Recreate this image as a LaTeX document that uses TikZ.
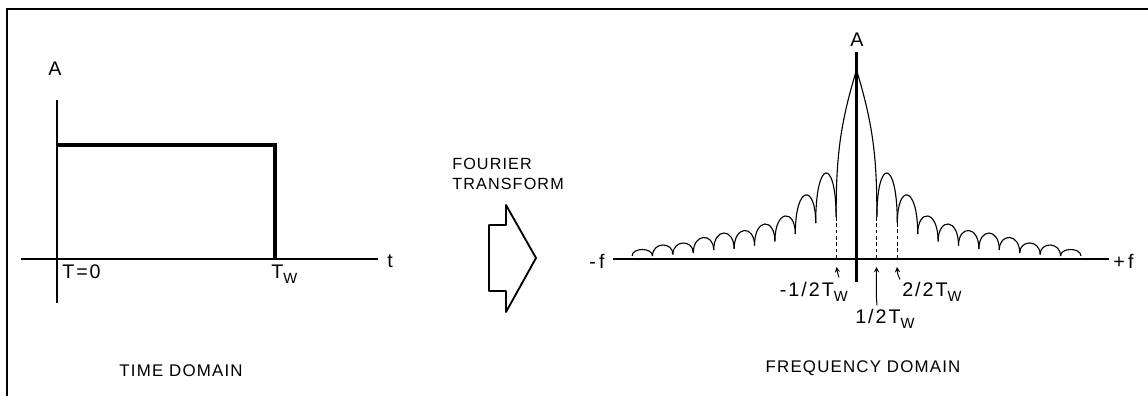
\documentclass[tikz,border=0pt]{standalone}
\usepackage{fontspec}
\setmainfont{Liberation Sans}
\newfontfamily\lettering[LetterSpace=10]{Liberation Sans}
\newfontfamily\captionfont[LetterSpace=7]{Liberation Sans}
\usepackage{tikz}
\usetikzlibrary{positioning}

\newcommand{\Tw}{T\raisebox{-0.5ex}{\fontsize{10.5}{10}\selectfont W}}

\begin{document}
\begin{tikzpicture}[
    x=0.025cm, y=0.025cm,
    frame/.style={line width=1.4pt},
    axis/.style={line width=0.9pt},
    pulse/.style={line width=2.2pt},
    lobe/.style={line width=0.8pt},
    zeroline/.style={dashed,line width=0.7pt,dash pattern=on 2.5pt off 2pt},
    pointer/.style={->,>=stealth,line width=0.7pt,shorten >=0pt},
    lbl/.style={font=\lettering\fontsize{14}{16}\selectfont,inner sep=0pt},
    caption/.style={font=\captionfont\fontsize{12}{14}\selectfont,inner sep=0pt}
  ]
    \useasboundingbox (0,0) rectangle (1148,396);
    \draw[frame] (7,0) -- (7,387) -- (1148,387);

    % time domain
    \coordinate (t0)   at (57,137);
    \coordinate (ttop) at (57,296);
    \coordinate (tbot) at (57,93);
    \coordinate (tl)   at (21,137);
    \coordinate (tr)   at (378,137);
    \coordinate (p1)   at (57,251);
    \coordinate (p2)   at (275,251);
    \coordinate (p3)   at (275,137);
    \draw[axis] (tbot) -- (ttop);
    \draw[axis] (tl) -- (tr);
    \draw[pulse] (p1) -- (p2) -- (p3);

    \node[lbl,anchor=base] (ta) at (55,320) {A};
    \node[lbl,anchor=base west] (tzero) at (62,118) {T=0};
    \node[lbl,anchor=base west] (tw) at (271,118) {\Tw};
    \node[lbl,anchor=west] (tt) at (387,135) {t};
    \node[caption] (tdom) at (181,25) {TIME DOMAIN};

    % transform arrow
    \node[caption,anchor=north west,align=left,
          font=\captionfont\fontsize{11.5}{14}\selectfont] (ft) at (452,238) {FOURIER\\TRANSFORM};
    \draw[line width=1.3pt,line join=round]
      (489,171) -- (506,171) -- (506,191) -- (536,138) -- (506,84)
      -- (506,105) -- (489,105) -- cycle;

    % frequency domain
    \coordinate (fl)   at (613,137);
    \coordinate (fr)   at (1109,137);
    \coordinate (ftop) at (856.5,344);
    \coordinate (fbot) at (856.5,114);
    \coordinate (zl)   at (836.1,179);
    \coordinate (zr)   at (876.9,179);
    \coordinate (zr2)  at (897.3,173);
    \coordinate (pk)   at (856.5,326);
    \draw[axis] (fl) -- (fr);
    \draw[line width=1.5pt] (fbot) -- (ftop);

    \draw[lobe] (zl) to[out=90,in=-107] (pk) to[out=-73,in=90] (zr);
    \foreach \k/\ya/\pk/\yb in {1/42/86/36, 2/36/64/25, 3/25/43/17.5,
        4/17.5/35/13.5, 5/13.5/28.5/10, 6/10/26/9, 7/9/21.5/6,
        8/6/16/4.5, 9/4.5/14/3, 10/3/9.5/3}{
      \foreach \s in {-1,1}{
        \draw[lobe] ({856.5+\s*\k*20.4},{137+\ya})
          .. controls ({856.5+\s*\k*20.4},{137+(\pk-(\ya+\yb)/8)/0.75})
          and ({856.5+\s*(\k+1)*20.4},{137+(\pk-(\ya+\yb)/8)/0.75})
          .. ({856.5+\s*(\k+1)*20.4},{137+\yb});
      }
    }

    \coordinate (al) at (836.1,137);
    \coordinate (ar) at (876.9,137);
    \coordinate (ar2) at (897.3,137);
    \draw[zeroline] (zl) -- (al);
    \draw[zeroline] (zr) -- (ar);
    \draw[zeroline] (zr2) -- (ar2);

    \node[lbl,anchor=base] (fa) at (857,349) {A};
    \node[lbl,anchor=east] (fneg) at (605,135) {-\,f};
    \node[lbl,anchor=west] (fpos) at (1113,135) {+\,f};
    \node[lbl,anchor=base east] (lm) at (848,100) {-1/2\Tw};
    \node[lbl,anchor=base west] (lc) at (855,73) {1/2\Tw};
    \node[lbl,anchor=base west] (lr) at (902,100) {2/2\Tw};

    \coordinate (am) at (836.5,129);
    \coordinate (ac) at (876.5,129);
    \coordinate (ar3) at (897,129);
    \draw[pointer] (lm.north east) ++(-9,4) to[out=110,in=-80] (am);
    \draw[pointer] (lc.north west) ++(22,3) to[out=95,in=-90] (ac);
    \draw[pointer] (lr.north west) ++(-2,2) to[out=120,in=-85] (ar3);

    \node[caption] (fdom) at (863,28) {FREQUENCY DOMAIN};
  \end{tikzpicture}
\end{document}
